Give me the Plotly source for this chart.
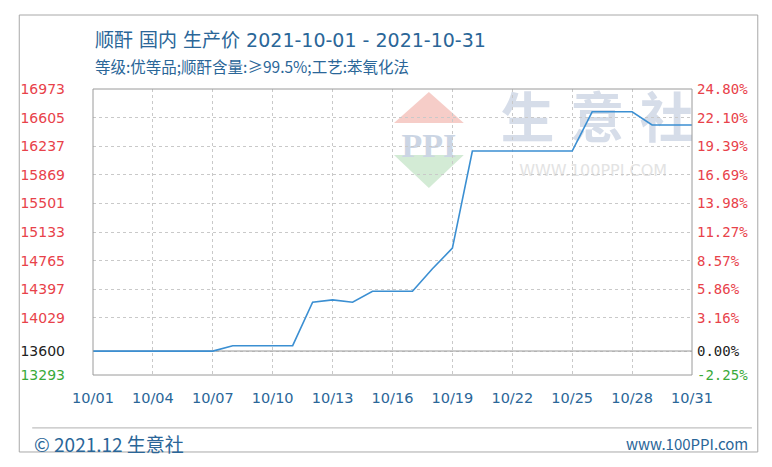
import plotly.graph_objects as go

# ---- data ----
dates = ["2021-10-%02d" % d for d in range(1, 32)]
prices = [13600, 13600, 13600, 13600, 13600, 13600, 13600,
          13670, 13670, 13670, 13670,
          14230, 14260, 14230, 14370, 14370, 14370,
          14660, 14925,
          16175, 16175, 16175, 16175, 16175, 16175,
          16680, 16680, 16680,
          16510, 16510, 16510]

y_ticks = [16973, 16605, 16237, 15869, 15501, 15133, 14765, 14397, 14029, 13600, 13293]
pct_ticks = ["24.80%", "22.10%", "19.39%", "16.69%", "13.98%", "11.27%",
             "8.57%", "5.86%", "3.16%", "0.00%", "-2.25%"]
x_tick_dates = ["2021-10-01", "2021-10-04", "2021-10-07", "2021-10-10", "2021-10-13",
                "2021-10-16", "2021-10-19", "2021-10-22", "2021-10-25", "2021-10-28",
                "2021-10-31"]
x_tick_labels = ["10/01", "10/04", "10/07", "10/10", "10/13", "10/16", "10/19",
                 "10/22", "10/25", "10/28", "10/31"]
base_price = 13600
title = "顺酐 国内 生产价 2021-10-01 - 2021-10-31"
subtitle = "等级:优等品;顺酐含量:≥99.5%;工艺:苯氧化法"

RED = "#e8424a"
GREEN = "#3aaa3a"
BLACK = "#222222"
BLUE_TXT = "#2a6698"


def colored(vals, texts):
    out = []
    for v, t in zip(vals, texts):
        if v > base_price:
            c = RED
        elif v < base_price:
            c = GREEN
        else:
            c = BLACK
        out.append('<span style="color:%s">%s</span>' % (c, t))
    return out


fig = go.Figure()
fig.add_trace(go.Scatter(x=dates, y=prices, mode="lines",
                         line=dict(color="#3b8fd2", width=1.6),
                         hoverinfo="skip", showlegend=False))
fig.add_trace(go.Scatter(x=dates, y=prices, mode="lines", yaxis="y2",
                         line=dict(color="rgba(0,0,0,0)", width=0),
                         hoverinfo="skip", showlegend=False))

yr = [min(y_ticks), max(y_ticks)]

# page body has an 8px default margin, so the figure is 16px smaller and margins shifted
fig.update_layout(
    width=756, height=451,
    margin=dict(l=83, r=72, t=81, b=84),
    paper_bgcolor="white", plot_bgcolor="white",
    font=dict(family="DejaVu Sans", size=13, color=BLACK),
    xaxis=dict(range=["2021-10-01", "2021-10-31"], type="date",
               tickvals=x_tick_dates, ticktext=x_tick_labels,
               tickfont=dict(family="DejaVu Sans", size=14.5, color=BLUE_TXT),
               showgrid=True, gridcolor="#c9c9c9", griddash="dot", gridwidth=1,
               zeroline=False, showline=False, ticks="", ticklabelstandoff=12),
    yaxis=dict(range=yr, tickvals=y_ticks, ticktext=colored(y_ticks, [str(v) for v in y_ticks]),
               tickfont=dict(family="DejaVu Sans", size=14),
               showgrid=True, gridcolor="#c9c9c9", griddash="dot", gridwidth=1,
               zeroline=False, showline=False, ticks="", ticklabelstandoff=27),
    yaxis2=dict(range=yr, overlaying="y", side="right",
                tickvals=y_ticks, ticktext=colored(y_ticks, pct_ticks),
                tickfont=dict(family="DejaVu Sans Mono", size=14),
                showgrid=False, zeroline=False, showline=False, ticks="",
                ticklabelstandoff=4),
    showlegend=False,
)

shapes = [
    dict(type="rect", xref="paper", yref="paper", x0=0, x1=1, y0=0, y1=1,
         line=dict(color="#9a9a9a", width=1), layer="above"),
    dict(type="line", xref="paper", yref="y", x0=0, x1=1, y0=base_price, y1=base_price,
         line=dict(color="#9a9a9a", width=1.2), layer="below"),
    # outer frame
    dict(type="rect", xref="paper", yref="paper", x0=-0.1231, x1=1.1098, y0=-0.2692, y1=1.2587,
         line=dict(color="#a8a8a8", width=1), layer="below"),
    # footer separator
    dict(type="line", xref="paper", yref="paper", x0=-0.1015, x1=1.1, y0=-0.185, y1=-0.185,
         line=dict(color="#b0b0b0", width=1), layer="below"),
    # watermark logo
    dict(type="path", xref="paper", yref="paper",
         path="M 0.5025 0.881 L 0.5607 0.9895 L 0.619 0.881 Z",
         fillcolor="#f6cdc8", line=dict(width=0), layer="below"),
    dict(type="path", xref="paper", yref="paper",
         path="M 0.5025 0.769 L 0.619 0.769 L 0.5607 0.654 Z",
         fillcolor="#d3ebd5", line=dict(width=0), layer="below"),
]


def wm_text(xc, yc, txt, size, color, family, w=0.06, h=0.08):
    return dict(type="rect", xref="paper", yref="paper",
                x0=xc - w / 2, x1=xc + w / 2, y0=yc - h / 2, y1=yc + h / 2,
                line=dict(width=0), fillcolor="rgba(0,0,0,0)", layer="below",
                label=dict(text=txt, font=dict(size=size, color=color, family=family),
                           textposition="middle center"))


shapes.append(wm_text(0.5607, 0.818, "<b>PPI</b>", 34, "#cbd5e4", "Liberation Serif", w=0.13))
for xc, ch in zip([0.7255, 0.842, 0.958], ["生", "意", "社"]):
    shapes.append(wm_text(xc, 0.881, "<b>%s</b>" % ch, 54, "#d6dde9", "Noto Sans CJK SC", w=0.1, h=0.2))
shapes.append(wm_text(0.835, 0.717, "WWW.100PPI.COM", 16, "#e3e3e3", "DejaVu Sans", w=0.3))

fig.update_layout(shapes=shapes)

annotations = [
    dict(text=title, xref="paper", yref="paper", x=0, y=1.171, xanchor="left", yanchor="middle",
         showarrow=False, font=dict(family="DejaVu Sans, Noto Sans CJK SC", size=19, color=BLUE_TXT)),
    dict(text=subtitle, xref="paper", yref="paper", x=0, y=1.08, xanchor="left", yanchor="middle",
         showarrow=False, font=dict(family="Noto Sans CJK SC", size=15.5, color=BLUE_TXT)),
    dict(text="© 2021.12 生意社", xref="paper", yref="paper", x=-0.1015, y=-0.238,
         xanchor="left", yanchor="middle", showarrow=False,
         font=dict(family="Noto Sans CJK SC", size=19, color=BLUE_TXT)),
    dict(text="www.100PPI.com", xref="paper", yref="paper", x=1.0965, y=-0.238,
         xanchor="right", yanchor="middle", showarrow=False,
         font=dict(family="Noto Sans CJK SC", size=15, color=BLUE_TXT)),
]
fig.update_layout(annotations=annotations)

fig.write_html("out.html")
